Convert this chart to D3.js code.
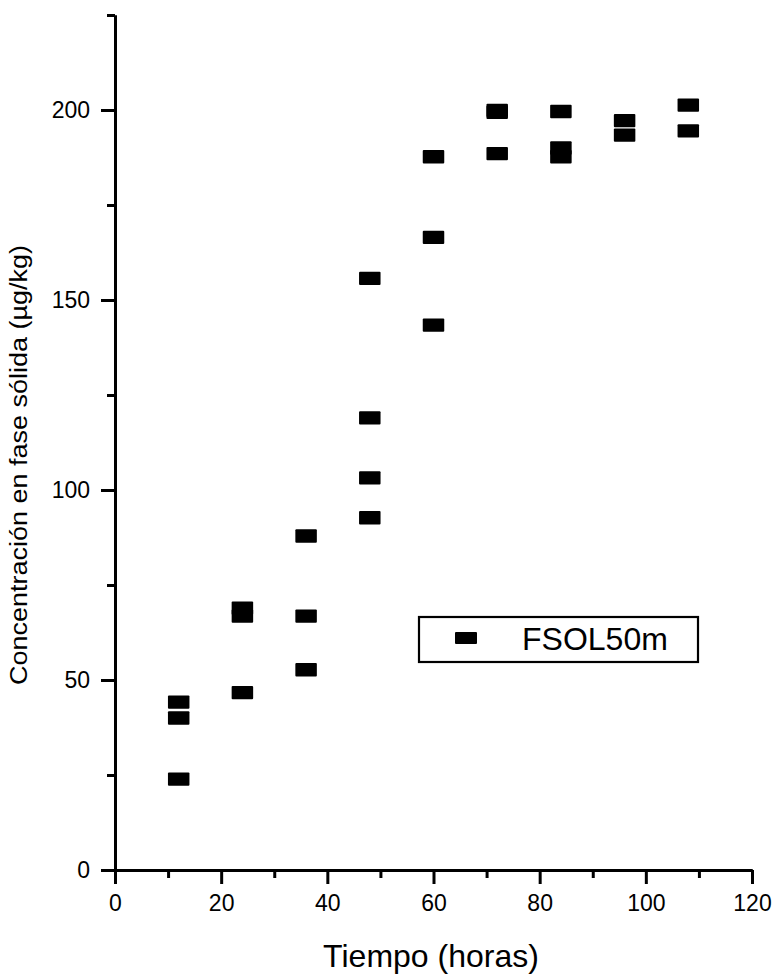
<!DOCTYPE html>
<html>
<head>
<meta charset="utf-8">
<script src="https://cdn.jsdelivr.net/npm/d3@7"></script>
<style>
  body { margin: 0; background: #fff; }
  text { font-family: "Liberation Sans", Arial, sans-serif; fill: #000; }
</style>
</head>
<body>
<div id="chart"></div>
<script>
// FSOL50m series: time (h) and solid-phase concentration (µg/kg)
const timeHours = [12, 12, 12, 24, 24, 24, 36, 36, 36, 48, 48, 48, 48,
                   60, 60, 60, 72, 72, 72, 84, 84, 84, 96, 96, 108, 108];
const concentration = [44.2, 40.0, 23.9, 68.9, 66.8, 46.7, 87.9, 66.8, 52.7,
                       155.7, 119.0, 103.2, 92.7, 187.7, 166.5, 143.4,
                       199.9, 199.4, 188.5, 199.6, 190.0, 187.7, 197.2, 193.4,
                       201.3, 194.5];
const xMajorTicks = [0, 20, 40, 60, 80, 100, 120];
const xMinorTicks = [10, 30, 50, 70, 90, 110];
const yMajorTicks = [0, 50, 100, 150, 200];
const yMinorTicks = [25, 75, 125, 175, 225];
const seriesName = "FSOL50m";

const width = 775, height = 976;

const svg = d3.select("#chart").append("svg")
    .attr("width", width)
    .attr("height", height);

svg.append("rect").attr("width", width).attr("height", height).attr("fill", "#fff");

const x = d3.scaleLinear().domain([0, 120]).range([115, 752]);
const y = d3.scaleLinear().domain([0, 225]).range([870, 15]);

// style helper for both axes
function styleAxis(g) {
    g.select(".domain").attr("stroke", "#000").attr("stroke-width", 3);
    g.selectAll(".tick line").attr("stroke", "#000").attr("stroke-width", 3);
    g.selectAll(".tick text")
        .style("font-family", '"Liberation Sans", Arial, sans-serif')
        .attr("font-size", 23)
        .attr("fill", "#000");
}

// x axis
svg.append("g")
    .attr("transform", `translate(0,${y(0)})`)
    .call(d3.axisBottom(x).tickValues(xMinorTicks).tickSize(8).tickSizeOuter(0).tickFormat(""))
    .call(styleAxis);
svg.append("g")
    .attr("transform", `translate(0,${y(0)})`)
    .call(d3.axisBottom(x).tickValues(xMajorTicks).tickSize(14).tickPadding(11).tickSizeOuter(0))
    .call(styleAxis);

// y axis
svg.append("g")
    .attr("transform", `translate(${x(0)},0)`)
    .call(d3.axisLeft(y).tickValues(yMinorTicks).tickSize(8).tickSizeOuter(0).tickFormat(""))
    .call(styleAxis);
svg.append("g")
    .attr("transform", `translate(${x(0)},0)`)
    .call(d3.axisLeft(y).tickValues(yMajorTicks).tickSize(14).tickPadding(11).tickSizeOuter(0))
    .call(styleAxis);

// axis titles
svg.append("text")
    .attr("x", 431)
    .attr("y", 967)
    .attr("text-anchor", "middle")
    .attr("font-size", 32)
    .text("Tiempo (horas)");

svg.append("text")
    .attr("transform", "translate(27,465) rotate(-90)")
    .attr("text-anchor", "middle")
    .attr("font-size", 23)
    .attr("textLength", 440)
    .attr("lengthAdjust", "spacingAndGlyphs")
    .text("Concentración en fase sólida (µg/kg)");

// data markers
const mw = 21.5, mh = 13.3;
svg.append("g").selectAll("rect")
    .data(timeHours.map((t, i) => ({ t, c: concentration[i] })))
    .enter().append("rect")
    .attr("x", d => x(d.t) - mw / 2)
    .attr("y", d => y(d.c) - mh / 2)
    .attr("width", mw)
    .attr("height", mh)
    .attr("rx", 1)
    .attr("fill", "#000");

// legend
const legend = svg.append("g");
legend.append("rect")
    .attr("x", 419).attr("y", 617)
    .attr("width", 279).attr("height", 45)
    .attr("fill", "#fff")
    .attr("stroke", "#000")
    .attr("stroke-width", 2.2);
legend.append("rect")
    .attr("x", 455).attr("y", 632)
    .attr("width", 22).attr("height", 12)
    .attr("rx", 1)
    .attr("fill", "#000");
legend.append("text")
    .attr("x", 522).attr("y", 650)
    .attr("font-size", 32)
    .text(seriesName);
</script>
</body>
</html>
